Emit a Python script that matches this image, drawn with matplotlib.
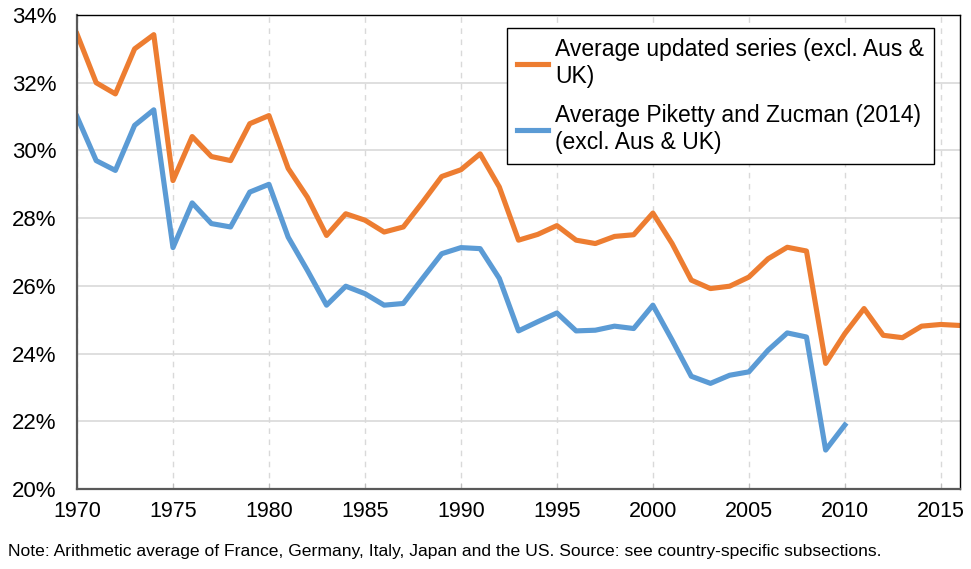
import numpy as np
import matplotlib.pyplot as plt
from matplotlib.ticker import FuncFormatter, MultipleLocator

plt.rcParams['font.family'] = ['Liberation Sans', 'DejaVu Sans']

# Años
anios = np.arange(1970, 2017)
anios_pz = np.arange(1970, 2011)

# Serie actualizada (excl. Aus & UK), en %
serie_actualizada = [33.44, 32.0, 31.67, 33.0, 33.42, 29.11, 30.41, 29.82, 29.70, 30.79,
                     31.03, 29.47, 28.62, 27.49, 28.13, 27.94, 27.59, 27.74, 28.47, 29.23,
                     29.43, 29.90, 28.92, 27.35, 27.52, 27.78, 27.35, 27.25, 27.46, 27.51,
                     28.15, 27.25, 26.17, 25.92, 25.99, 26.26, 26.80, 27.14, 27.03, 23.71,
                     24.59, 25.33, 24.54, 24.47, 24.81, 24.86, 24.83]

# Serie Piketty y Zucman (2014), en %
serie_pz = [31.00, 29.70, 29.41, 30.74, 31.20, 27.13, 28.45, 27.84, 27.74, 28.77,
            29.00, 27.44, 26.46, 25.43, 25.99, 25.77, 25.43, 25.48, 26.22, 26.95,
            27.13, 27.10, 26.22, 24.67, 24.94, 25.20, 24.67, 24.69, 24.81, 24.74,
            25.43, 24.40, 23.33, 23.12, 23.36, 23.46, 24.10, 24.61, 24.49, 21.15,
            21.89]

naranja = '#ED7D31'
azul = '#5B9BD5'

fig = plt.figure(figsize=(9.71, 5.69), dpi=100)
ax = fig.add_axes([0.0793, 0.1406, 0.9094, 0.833])

ax.plot(anios, serie_actualizada, color=naranja, linewidth=3.7, solid_joinstyle='round',
        label='Average updated series (excl. Aus &\nUK)')
ax.plot(anios_pz, serie_pz, color=azul, linewidth=3.7, solid_joinstyle='round',
        label='Average Piketty and Zucman (2014)\n(excl. Aus & UK)')

ax.set_xlim(1970, 2016)
ax.set_ylim(20, 34)
ax.xaxis.set_major_locator(MultipleLocator(5))
ax.yaxis.set_major_locator(MultipleLocator(2))
ax.yaxis.set_major_formatter(FuncFormatter(lambda v, p: f'{v:.0f}%'))

ax.grid(axis='y', color='#d9d9d9', linewidth=1.2, linestyle='-')
ax.grid(axis='x', color='#d9d9d9', linewidth=1.0, linestyle=(0, (4, 4)))
ax.set_axisbelow(True)

ax.tick_params(axis='y', labelsize=16, length=0, pad=15)
ax.tick_params(axis='x', labelsize=15.5, direction='in', length=4, color='#bfbfbf', pad=9)

for lado in ['left', 'bottom']:
    ax.spines[lado].set_color('#595959')
    ax.spines[lado].set_linewidth(1.6)
for lado in ['top', 'right']:
    ax.spines[lado].set_color('black')
    ax.spines[lado].set_linewidth(1.0)

leg = ax.legend(loc='upper left', bbox_to_anchor=(0.487, 0.9726), borderaxespad=0,
                fontsize=16.5, frameon=True, fancybox=False, edgecolor='black', framealpha=1,
                handlelength=1.35, handletextpad=0.3, borderpad=0.45, labelspacing=0.7)
leg.get_frame().set_linewidth(1.0)

fig.text(0.008, 0.022, 'Note: Arithmetic average of France, Germany, Italy, Japan and the US. '
         'Source: see country-specific subsections.', fontsize=12.6)

plt.savefig('out.png', dpi=100)
